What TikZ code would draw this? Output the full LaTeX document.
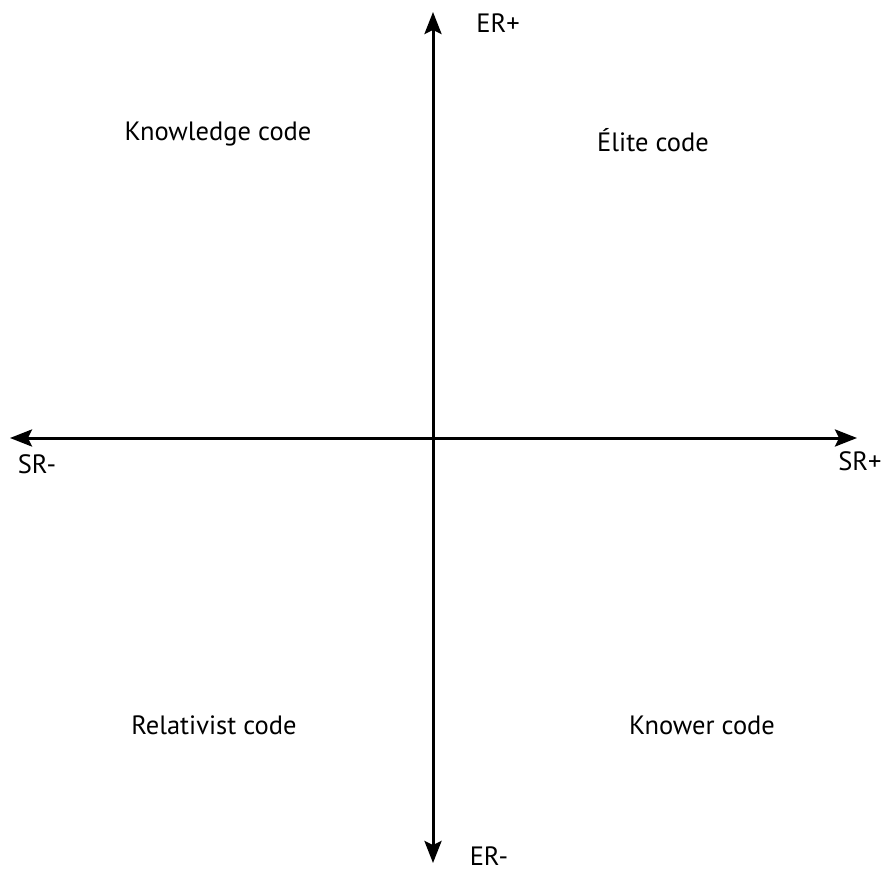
\documentclass[tikz,border=0pt]{standalone}
\usepackage{fontspec}
\setmainfont{PT Sans}
\usetikzlibrary{arrows.meta, positioning}

\begin{document}
\begin{tikzpicture}[x=1pt, y=1pt, >={Stealth[length=22pt, width=17pt, inset=4pt]},
    axis/.style={line width=3pt},
    code/.style={font=\fontsize{26.5}{30}\selectfont},
    pole/.style={font=\fontsize{26.5}{30}\selectfont, inner sep=0pt}]
  \useasboundingbox (0,0) rectangle (890,871);

  % Axes
  \coordinate (ertop) at (433,859);
  \coordinate (erbot) at (433,8);
  \coordinate (srleft) at (10,433);
  \coordinate (srright) at (857,433);
  \draw[axis, <->] (erbot) -- (ertop);
  \draw[axis, <->] (srleft) -- (srright);

  % Pole labels
  \node[pole] (erplus) at (498,848) {ER+};
  \node[pole] (erminus) at (489,15) {ER-};
  \node[pole] (srminus) at (37,407) {SR-};
  \node[pole] (srplus) at (860,410) {SR+};

  % Quadrants
  \node[code] (knowledge) at (218,737) {Knowledge code};
  \node[code] (elite) at (653,731) {Élite code};
  \node[code] (relativist) at (214,146) {Relativist code};
  \node[code] (knower) at (702,146) {Knower code};
\end{tikzpicture}
\end{document}
